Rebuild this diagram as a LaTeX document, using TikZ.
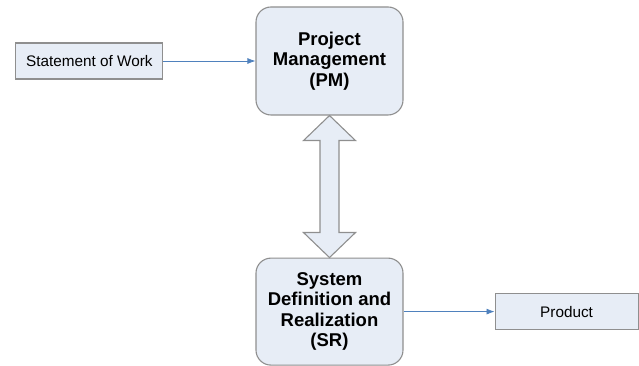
\documentclass[tikz,border=0pt]{standalone}
\usepackage{fontspec}
\setmainfont{Liberation Sans}
\usetikzlibrary{arrows.meta,positioning,calc}
\definecolor{boxfill}{HTML}{E7EDF6}
\definecolor{boxline}{HTML}{8F8F8F}
\definecolor{flowline}{HTML}{4F81BD}
\tikzstyle{ext} = [rectangle,draw=boxline,fill=boxfill,line width=1.1pt,inner sep=2pt,font=\fontsize{15.3}{18}\selectfont]
\tikzstyle{proc} = [rectangle,rounded corners=15pt,draw=boxline,fill=boxfill,line width=1.1pt,align=center,minimum width=147pt,inner sep=2pt,font=\bfseries\fontsize{18.5}{20.5}\selectfont]
\tikzstyle{flow} = [draw=flowline,line width=0.8pt,-{Latex[length=8pt,width=6pt]}]
\tikzstyle{dbl} = [draw=boxline,fill=boxfill,line width=1.1pt,line join=miter]
\tikzset{>=latex}

\begin{document}
\begin{tikzpicture}[x=1pt,y=1pt]
    \useasboundingbox (0,0) rectangle (639,366);
    \node [proc,minimum height=108pt] (pm) at (329.5,305) {Project\\Management\\(PM)};
    \node [ext,minimum width=147pt,minimum height=36pt,left=92pt of pm] (sow) {Statement of Work};
    \node [proc,minimum height=107pt,below=142pt of pm] (sr) {System\\Definition and\\Realization\\(SR)};
    \node [ext,minimum width=143pt,minimum height=36pt,right=91pt of sr] (product) {Product};
    \draw [flow] (sow) -- (pm);
    \draw [flow] (sr) -- (product);
    % two-headed link between PM and SR
    \draw [dbl] (pm.south) -- ++(26,-25) -- ++(-16.5,0) -- ($(sr.north)+(9.5,25)$) -- ++(16.5,0)
      -- (sr.north) -- ++(-26,25) -- ++(16.5,0) -- ($(pm.south)+(-9.5,-25)$) -- ++(-16.5,0) -- cycle;
\end{tikzpicture}
\end{document}
